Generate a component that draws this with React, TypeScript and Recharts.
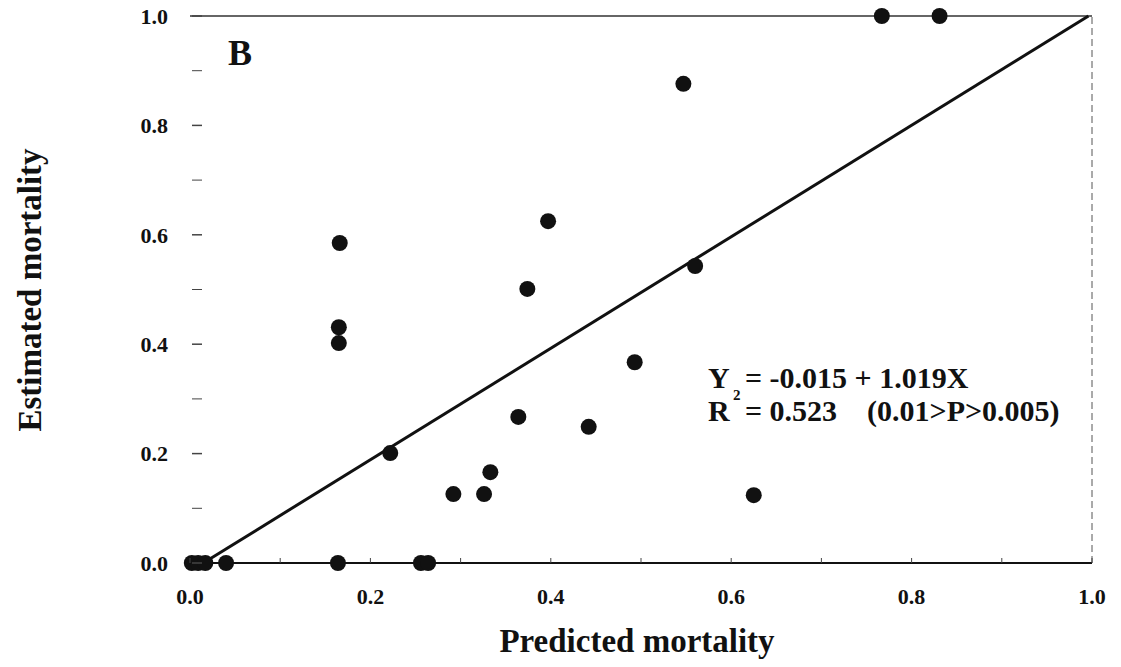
import React from "react";
import {
  ScatterChart,
  Scatter,
  XAxis,
  YAxis,
  ReferenceLine,
} from "recharts";

// Observed points: predicted mortality (x) vs estimated mortality (y)
const predicted = [
  0.002, 0.009, 0.017, 0.04, 0.164, 0.256, 0.264,
  0.166, 0.165, 0.165, 0.222, 0.292, 0.326, 0.333,
  0.364, 0.374, 0.397, 0.442, 0.493, 0.547, 0.56,
  0.625, 0.767, 0.831,
];
const estimated = [
  0, 0, 0, 0, 0, 0, 0,
  0.585, 0.431, 0.402, 0.201, 0.126, 0.126, 0.166,
  0.267, 0.501, 0.625, 0.249, 0.367, 0.876, 0.543,
  0.124, 1.0, 1.0,
];

// Fitted regression: Y = -0.015 + 1.019X
const intercept = -0.015;
const slope = 1.019;

const axisTicks = [0, 0.1, 0.2, 0.3, 0.4, 0.5, 0.6, 0.7, 0.8, 0.9, 1.0];

const points = predicted.map((x, i) => ({ x, y: estimated[i] }));

const lineStart = { x: -intercept / slope, y: 0 };
const lineEnd = { x: Math.min(1, (1 - intercept) / slope), y: Math.min(1, intercept + slope) };

const FONT = '"Liberation Serif", "Times New Roman", serif';
const INK = "#111";

const isMajor = (v: number) => Math.round(v * 10) % 2 === 0;

const YTick = (props: any) => {
  const { x, y, payload } = props;
  const v = payload.value as number;
  return (
    <g>
      <line x1={x + 2} x2={x + 12} y1={y} y2={y} stroke="#444" strokeWidth={isMajor(v) ? 1.5 : 1} />
      {isMajor(v) && (
        <text
          x={x - 22}
          y={y}
          dy="0.35em"
          textAnchor="end"
          fontFamily={FONT}
          fontWeight="bold"
          fontSize={22}
          fill={INK}
        >
          {v.toFixed(1)}
        </text>
      )}
    </g>
  );
};

const XTick = (props: any) => {
  const { x, y, payload } = props;
  const v = payload.value as number;
  return (
    <g>
      <line x1={x} x2={x} y1={y} y2={y - 5} stroke="#444" strokeWidth={1} />
      {isMajor(v) && (
        <text
          x={x}
          y={y + 41}
          textAnchor="middle"
          fontFamily={FONT}
          fontWeight="bold"
          fontSize={22}
          fill={INK}
        >
          {v.toFixed(1)}
        </text>
      )}
    </g>
  );
};

const textStyle = {
  fontFamily: FONT,
  fontWeight: "bold" as const,
  fill: INK,
};

export default function App() {
  return (
    <div style={{ position: "absolute", left: 0, top: 0, width: 1121, height: 667, background: "#fff" }}>
      <ScatterChart
        width={1121}
        height={667}
        margin={{ top: 16, right: 29, bottom: 0, left: 0 }}
      >
        <XAxis
          type="number"
          dataKey="x"
          domain={[0, 1]}
          ticks={axisTicks}
          interval={0}
          height={104}
          tickSize={0}
          tickMargin={0}
          tick={<XTick />}
          axisLine={{ stroke: INK, strokeWidth: 1.8 }}
        />
        <YAxis
          type="number"
          dataKey="y"
          domain={[0, 1]}
          ticks={axisTicks}
          interval={0}
          width={190}
          tickSize={0}
          tickMargin={0}
          tick={<YTick />}
          axisLine={false}
        />
        {/* plot frame: top edge and dashed right edge */}
        <ReferenceLine y={1} stroke="#333" strokeWidth={1.5} ifOverflow="visible" />
        <ReferenceLine x={1} stroke="#555" strokeWidth={1} strokeDasharray="7 4" ifOverflow="visible" />
        {/* regression line */}
        <ReferenceLine
          segment={[lineStart, lineEnd]}
          stroke={INK}
          strokeWidth={3}
          ifOverflow="visible"
        />
        <Scatter
          data={points}
          fill={INK}
          isAnimationActive={false}
          shape={(p: any) => <circle cx={p.cx} cy={p.cy} r={8} fill={INK} />}
        />
        <text x={228} y={65} fontSize={36} {...textStyle}>
          B
        </text>
        {/* regression equation and R² (the superscript sits between the two lines) */}
        <text x={708} y={388} fontSize={30} {...textStyle}>Y</text>
        <text x={733} y={400} fontSize={15} {...textStyle}>2</text>
        <text x={745} y={388} fontSize={30} {...textStyle}>{"= -0.015 + 1.019X"}</text>
        <text x={708} y={421} fontSize={30} {...textStyle}>R</text>
        <text x={745} y={421} fontSize={30} {...textStyle} style={{ whiteSpace: "pre" }}>
          {"= 0.523    (0.01>P>0.005)"}
        </text>
        <text x={637} y={652} fontSize={33} textAnchor="middle" {...textStyle}>
          Predicted mortality
        </text>
        <text
          x={30}
          y={290}
          fontSize={33}
          textAnchor="middle"
          dominantBaseline="central"
          transform="rotate(-90 30 290)"
          {...textStyle}
        >
          Estimated mortality
        </text>
      </ScatterChart>
    </div>
  );
}
